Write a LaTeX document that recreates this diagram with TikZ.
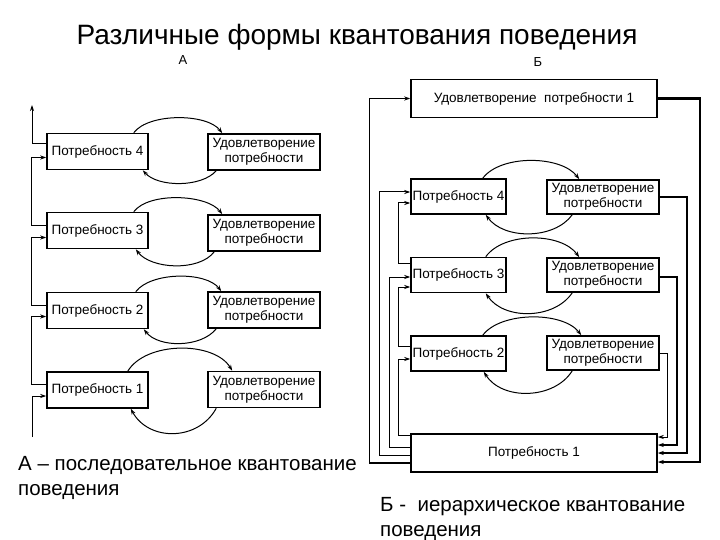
\documentclass[tikz,border=0pt]{standalone}
\usepackage{fontspec}
\setmainfont{Liberation Sans}
\usetikzlibrary{arrows.meta}
\tikzset{
  box/.style={draw, line width=1.5pt, inner sep=1pt, align=center, font=\fontsize{13.5}{15}\selectfont},
  pa/.style={box, minimum width=101pt, minimum height=36pt},
  sa/.style={box, minimum width=112pt, minimum height=36pt},
  pb/.style={box, minimum width=95pt, minimum height=35pt},
  sbx/.style={box, minimum width=112pt, minimum height=34pt},
  wide/.style={box, minimum width=246pt, minimum height=38pt},
  wire/.style={line width=1pt},
  arr/.style={-{Stealth[length=6pt,width=4pt]}},
  captext/.style={font=\fontsize{20.5}{25}\selectfont, align=left, inner sep=0pt},
}
\begin{document}
\begin{tikzpicture}[x=1pt,y=1pt]
\useasboundingbox (0,0) rectangle (720,-540);
\fill[white] (0,0) rectangle (720,-540);
% titles
\node[font=\fontsize{28}{32}\selectfont, inner sep=0pt] (title) at (357,-37) {Различные формы квантования поведения};
\node[font=\fontsize{13}{15}\selectfont, inner sep=0pt] (la) at (183,-60) {А};
\node[font=\fontsize{13}{15}\selectfont, inner sep=0pt] (lb) at (538,-62) {Б};
% ---------- A ----------
\node[pa] (a4) at (97.5,-151.5) {Потребность 4};
\node[pa] (a3) at (97.5,-230.5) {Потребность 3};
\node[pa] (a2) at (97.5,-310.5) {Потребность 2};
\node[pa] (a1) at (97.5,-390) {Потребность 1};
\node[sa] (sa4) at (264,-152) {Удовлетворение\\потребности};
\node[sa] (sa3) at (264,-233) {Удовлетворение\\потребности};
\node[sa] (sa2) at (264,-310) {Удовлетворение\\потребности};
\node[sa] (sa1) at (264,-389.5) {Удовлетворение\\потребности};
% arcs A
\draw[wire,arr] ([xshift=-15pt]a4.north east) .. controls +(15,20) and +(-15,20) .. ([xshift=15pt]sa4.north west);
\draw[wire,arr] ([xshift=9pt]sa4.south west) .. controls +(-15,-17) and +(15,-17) .. ([xshift=-6pt]a4.south east);
\draw[wire,arr] ([xshift=-15pt]a3.north east) .. controls +(15,20) and +(-15,20) .. ([xshift=15pt]sa3.north west);
\draw[wire,arr] ([xshift=7pt]sa3.south west) .. controls +(-15,-20) and +(15,-20) .. ([xshift=-13pt]a3.south east);
\draw[wire,arr] ([xshift=-13pt]a2.north east) .. controls +(15,20) and +(-15,20) .. ([xshift=14pt]sa2.north west);
\draw[wire,arr] ([xshift=9pt]sa2.south west) .. controls +(-15,-19) and +(15,-19) .. ([xshift=-5pt]a2.south east);
\draw[wire,arr] ([xshift=-21pt]a1.north east) .. controls +(18,30) and +(-18,30) .. ([xshift=25pt]sa1.north west);
\draw[wire,arr] ([xshift=9pt]sa1.south west) .. controls +(-18,-33) and +(18,-33) .. ([xshift=-18pt]a1.south east);
% chain A
\coordinate (atop) at (32,-105);
\coordinate (abot) at (32,-437);
\draw[wire,arr] ([yshift=8pt]a4.west) -| (atop);
\draw[wire,arr] ([yshift=5pt]a3.west) -- ++(-15,0) |- ([yshift=-6pt]a4.west);
\draw[wire,arr] ([yshift=5pt]a2.west) -- ++(-15,0) |- ([yshift=-7pt]a3.west);
\draw[wire,arr] ([yshift=6pt]a1.west) -- ++(-15,0) |- ([yshift=-6pt]a2.west);
\draw[wire,arr] (abot) |- ([yshift=-6pt]a1.west);
% ---------- Б ----------
\node[wide] (top) at (534,-98.5) {Удовлетворение\ \ потребности 1};
\node[pb] (b4) at (458.5,-196.5) {Потребность 4};
\node[pb] (b3) at (458.5,-275) {Потребность 3};
\node[pb] (b2) at (458.5,-353.5) {Потребность 2};
\node[wide] (bb1) at (534,-453) {Потребность 1};
\node[sbx] (sb4) at (603,-197) {Удовлетворение\\потребности};
\node[sbx] (sb3) at (603,-275) {Удовлетворение\\потребности};
\node[sbx] (sb2) at (603,-353) {Удовлетворение\\потребности};
% arcs Б
\draw[wire,arr] ([xshift=-24pt]b4.north east) .. controls +(18,24) and +(-18,24) .. ([xshift=33pt]sb4.north west);
\draw[wire,arr] ([xshift=26pt]sb4.south west) .. controls +(-18,-25) and +(18,-25) .. ([xshift=-21pt]b4.south east);
\draw[wire,arr] ([xshift=-21pt]b3.north east) .. controls +(18,25) and +(-18,25) .. ([xshift=33pt]sb3.north west);
\draw[wire,arr] ([xshift=26pt]sb3.south west) .. controls +(-18,-27) and +(18,-27) .. ([xshift=-21pt]b3.south east);
\draw[wire,arr] ([xshift=-24pt]b2.north east) .. controls +(18,24) and +(-18,24) .. ([xshift=35pt]sb2.north west);
\draw[wire,arr] ([xshift=26pt]sb2.south west) .. controls +(-18,-29) and +(18,-29) .. ([xshift=-23pt]b2.south east);
% left wires Б
\draw[wire,arr,line width=1.3pt] ([yshift=-10pt]bb1.west) -- ++(-41,0) |- (top.west);
\draw[wire,arr] ([yshift=-2pt]bb1.west) -- ++(-31,0) |- ([yshift=4.5pt]b4.west);
\draw[wire,arr] ([yshift=6pt]bb1.west) -- ++(-21,0) |- ([yshift=-2pt]b3.west);
\draw[wire,arr] ([yshift=-2pt]bb1.north west) -- ++(-12,0) |- ([yshift=-5.5pt]b2.west);
\draw[wire,arr] ([yshift=7.5pt]b2.west) -- ++(-12,0) |- ([yshift=-12pt]b3.west);
\draw[wire,arr] ([yshift=12pt]b3.west) -- ++(-12,0) |- ([yshift=-6.5pt]b4.west);
% right wires Б
\draw[arr,line width=2.4pt] (top.east) -- ++(42,0) |- ([yshift=-9pt]bb1.east);
\draw[arr,line width=1.9pt] (sb4.east) -- ++(27,0) |- (bb1.east);
\draw[arr,line width=1.5pt] ([yshift=-2pt]sb3.east) -- ++(17,0) |- ([yshift=8pt]bb1.east);
\draw[arr,line width=1pt] (sb2.east) -- ++(8,0) |- ([yshift=16pt]bb1.east);
% captions
\node[captext, anchor=north west] (capa) at (18,-456) {А – последовательное квантование\\поведения};
\node[captext, anchor=north west] (capb) at (380,-497) {Б -\ \ иерархическое квантование\\поведения};
\end{tikzpicture}
\end{document}
